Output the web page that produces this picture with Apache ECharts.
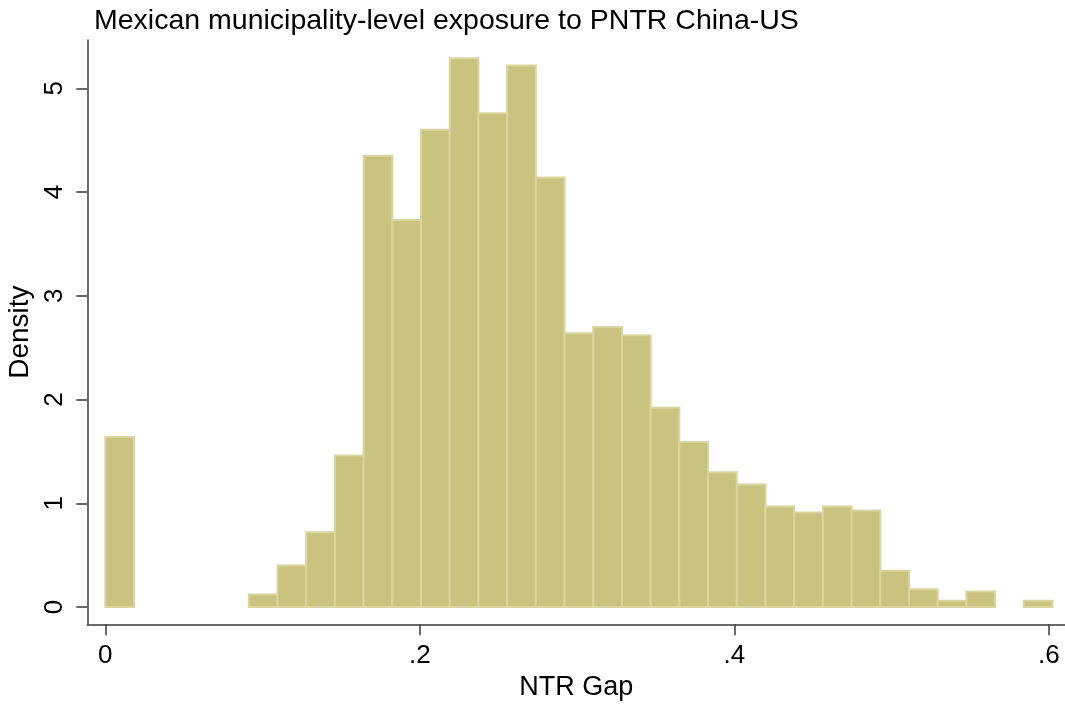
<!DOCTYPE html>
<html>
<head>
<meta charset="utf-8">
<script src="https://cdn.jsdelivr.net/npm/echarts@6/dist/echarts.min.js"></script>
<style>
html,body{margin:0;padding:0;background:#fff;}
#chart{width:1065px;height:706px;}
</style>
</head>
<body>
<div id="chart"></div>
<script>
// Histogram data (bin lower edges, common bin width, density per bin)
const binWidth = 0.01825;
const binStart = [0, 0.09125, 0.1095, 0.12775, 0.146, 0.16425, 0.1825, 0.20075, 0.219, 0.23725,
  0.2555, 0.27375, 0.292, 0.31025, 0.3285, 0.34675, 0.365, 0.38325, 0.4015, 0.41975,
  0.438, 0.45625, 0.4745, 0.49275, 0.511, 0.52925, 0.5475, 0.584];
const density = [1.64, 0.12, 0.40, 0.72, 1.46, 4.35, 3.73, 4.60, 5.29, 4.76,
  5.22, 4.14, 2.64, 2.70, 2.62, 1.92, 1.59, 1.30, 1.18, 0.97,
  0.91, 0.97, 0.93, 0.35, 0.17, 0.06, 0.15, 0.06];
const xTicks = [0, 0.2, 0.4, 0.6];
const xTickLabels = ['0', '.2', '.4', '.6'];
const yTicks = [0, 1, 2, 3, 4, 5];
const yTickLabels = ['0', '1', '2', '3', '4', '5'];

const seriesData = binStart.map((s, i) => [s, s + binWidth, density[i]]);

const FONT = '"Liberation Sans", Arial, sans-serif';
const chart = echarts.init(document.getElementById('chart'));
chart.setOption({
  backgroundColor: '#ffffff',
  animation: false,
  title: {
    text: 'Mexican municipality-level exposure to PNTR China-US',
    left: 89, top: 2,
    textStyle: {fontFamily: FONT, fontSize: 28.5, fontWeight: 'normal', color: '#000'}
  },
  grid: {left: 87.3, right: 0, top: 40, bottom: 81.7, containLabel: false, outerBoundsMode: 'none'},
  xAxis: {
    type: 'value',
    min: -0.01144, max: 0.6102,
    name: 'NTR Gap', nameLocation: 'middle', nameGap: 45,
    nameTextStyle: {fontFamily: FONT, fontSize: 27, color: '#000'},
    axisLine: {show: true, onZero: false, lineStyle: {color: '#3a3a3a', width: 1.5}},
    axisTick: {show: true, length: 11, customValues: xTicks, lineStyle: {color: '#3a3a3a', width: 1.5}},
    axisLabel: {
      customValues: xTicks, margin: 19,
      fontFamily: FONT, fontSize: 26, color: '#000',
      formatter: v => { const i = xTicks.findIndex(t => Math.abs(t - v) < 1e-9); return i >= 0 ? xTickLabels[i] : ''; }
    },
    splitLine: {show: false}
  },
  yAxis: {
    type: 'value',
    min: -0.1668, max: 5.466,
    name: 'Density', nameLocation: 'middle', nameGap: 39,
    nameTextStyle: {fontFamily: FONT, fontSize: 28, color: '#000'},
    axisLine: {show: true, onZero: false, lineStyle: {color: '#3a3a3a', width: 1.5}},
    axisTick: {show: true, length: 11, customValues: yTicks, lineStyle: {color: '#3a3a3a', width: 1.5}},
    axisLabel: {
      customValues: yTicks, margin: 19, rotate: 90,
      fontFamily: FONT, fontSize: 26, color: '#000',
      formatter: v => { const i = yTicks.findIndex(t => Math.abs(t - v) < 1e-9); return i >= 0 ? yTickLabels[i] : ''; }
    },
    splitLine: {show: false}
  },
  series: [{
    type: 'custom',
    data: seriesData,
    encode: {x: [0, 1], y: 2},
    renderItem: function (params, api) {
      const p0 = api.coord([api.value(0), 0]);
      const p1 = api.coord([api.value(1), api.value(2)]);
      return {
        type: 'rect',
        shape: {x: p0[0], y: p1[1], width: p1[0] - p0[0], height: p0[1] - p1[1]},
        style: {fill: '#cac27f', stroke: '#dad5a0', lineWidth: 2}
      };
    }
  }]
});
</script>
</body>
</html>
